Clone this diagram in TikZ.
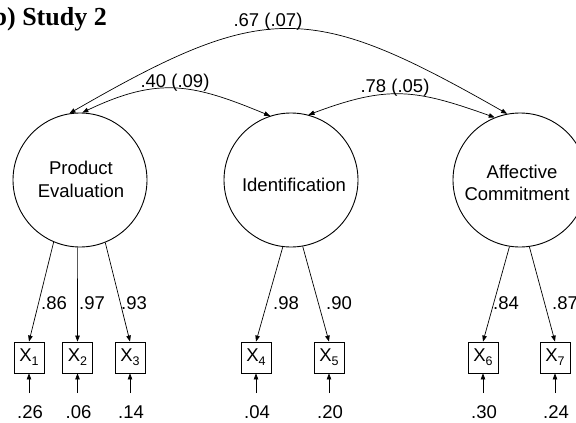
\documentclass[tikz,border=0pt]{standalone}
\usepackage{fontspec}
\setmainfont{Liberation Sans}
\newfontfamily\titlefont{Liberation Serif}
\usetikzlibrary{arrows.meta}

\tikzset{
  lat/.style={circle, draw, line width=0.9pt, minimum size=134pt, inner sep=0pt},
  ind/.style={rectangle, draw, line width=0.8pt, minimum width=30pt, minimum height=31pt, inner sep=0pt,
              font=\fontsize{18.5}{22}\selectfont},
  lbl/.style={anchor=base, inner sep=0pt, font=\fontsize{18.5}{22}\selectfont},
  path/.style={line width=0.7pt, -{Triangle[length=6pt,width=4.5pt]}},
  cov/.style={line width=0.7pt, {Triangle[length=6pt,width=4.5pt]}-{Triangle[length=6pt,width=4.5pt]}}
}
\newcommand{\xsub}[1]{X\raisebox{-4pt}{\fontsize{12.5}{12.5}\selectfont #1}}

\begin{document}
\begin{tikzpicture}[x=1pt, y=-1pt]
  \useasboundingbox (0,0) rectangle (576,423);
  \clip (0,0) rectangle (576,423);

  % title
  \node[anchor=base east, inner sep=0pt, font=\titlefont\bfseries\fontsize{26}{30}\selectfont] (title) at (107,25) {(b) Study 2};

  % latent factors
  \node[lat] (pe) at (80,180) {};
  \node[lat] (id) at (291,180) {};
  \node[lat] (ac) at (520,180) {};
  \node[lbl] (pe-l1) at (81,174) {Product};
  \node[lbl] (pe-l2) at (81,197) {Evaluation};
  \node[lbl] (id-l1) at (294,191) {Identification};
  \node[lbl] (ac-l1) at (522,178) {Affective};
  \node[lbl] (ac-l2) at (517,200) {Commitment};

  % indicators
  \node[ind] (x1) at (29,357.5)  {\xsub{1}};
  \node[ind] (x2) at (77.5,357.5) {\xsub{2}};
  \node[ind] (x3) at (130,357.5) {\xsub{3}};
  \node[ind] (x4) at (256,357.5) {\xsub{4}};
  \node[ind] (x5) at (329,357.5) {\xsub{5}};
  \node[ind] (x6) at (483,357.5) {\xsub{6}};
  \node[ind] (x7) at (555,357.5) {\xsub{7}};

  % loadings
  \draw[path] (pe.-113) -- (x1.north);
  \draw[path] (pe.-92)  -- (x2.north);
  \draw[path] (pe.-68)  -- (x3.north);
  \draw[path] (id.-97)  -- (x4.north);
  \draw[path] (id.-80)  -- (x5.north);
  \draw[path] (ac.-99.5) -- (x6.north);
  \draw[path] (ac.-82)  -- (x7.north);

  \node[lbl] (l1) at (54,309)  {.86};
  \node[lbl] (l2) at (92,309)  {.97};
  \node[lbl] (l3) at (134,309) {.93};
  \node[lbl] (l4) at (286,309) {.98};
  \node[lbl] (l5) at (339,309) {.90};
  \node[lbl] (l6) at (506,309) {.84};
  \node[lbl] (l7) at (565,309) {.87};

  % error terms
  \foreach \i/\x/\v in {1/29/.26, 2/77.5/.06, 3/130/.14, 4/256/.04, 5/329/.20, 6/483/.30, 7/555/.24} {
    \coordinate (e\i) at (\x,393);
    \draw[path] (e\i) -- (x\i.south);
    \node[lbl] (ev\i) at (\x+1,418) {\v};
  }

  % factor covariances
  \draw[cov] (pe.88) .. controls (159,76) and (193,84) .. (id.108);
  \draw[cov] (id.75) .. controls (388,85) and (415,89) .. (ac.112);
  \draw[cov] (pe.99) .. controls (266,0) and (311,2) .. (ac.101);

  \node[lbl] (c1) at (175,87) {.40 (.09)};
  \node[lbl] (c2) at (395,92) {.78 (.05)};
  \node[lbl] (c3) at (268,27) {.67 (.07)};
\end{tikzpicture}
\end{document}
